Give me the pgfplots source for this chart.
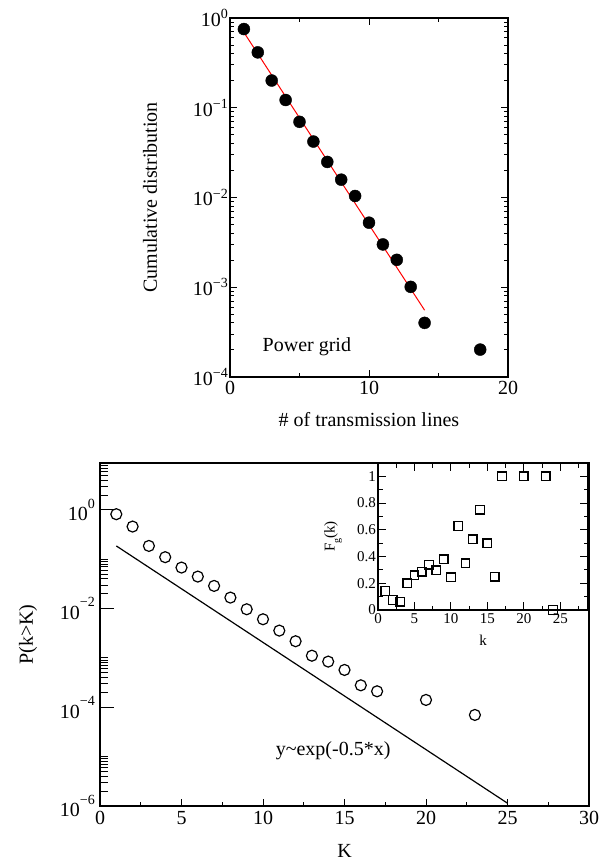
\documentclass[border=0pt]{standalone}
\usepackage{fontspec}
\setmainfont{Liberation Serif}
\usepackage{pgfplots}
\pgfplotsset{compat=1.18}
\newcommand{\ta}[1]{10\raisebox{0.38em}{\fontsize{14}{14}\selectfont #1}}
\newcommand{\tb}[1]{10\raisebox{0.62em}{\fontsize{14}{14}\selectfont #1}}
\newcommand{\bigf}{\fontsize{20}{24}\selectfont}
\newcommand{\smlf}{\fontsize{15}{18}\selectfont}
\begin{document}
\begin{tikzpicture}
\useasboundingbox (0,0) rectangle (598pt,-861pt);
% ---------------- top plot ----------------
\begin{axis}[
  at={(230pt,-377pt)}, anchor=south west, scale only axis,
  width=278pt, height=359pt,
  xmin=0, xmax=20, ymode=log, ymin=1e-4, ymax=1,
  xtick={0,10,20}, xticklabels={0,10,20}, minor xtick={5,15},
  ytick={1e-4,1e-3,1e-2,1e-1,1},
  yticklabels={\ta{−4},\ta{−3},\ta{−2},\ta{−1},\ta{0}},
  minor ytick={2e-4,3e-4,4e-4,5e-4,6e-4,7e-4,8e-4,9e-4,
               2e-3,3e-3,4e-3,5e-3,6e-3,7e-3,8e-3,9e-3,
               2e-2,3e-2,4e-2,5e-2,6e-2,7e-2,8e-2,9e-2,
               2e-1,3e-1,4e-1,5e-1,6e-1,7e-1,8e-1,9e-1},
  major tick length=7pt, minor tick length=4pt,
  every tick/.style={black, line width=1pt},
  axis line style={line width=1.2pt},
  tick label style={font=\bigf},
  yticklabel style={inner sep=2pt},
  xticklabel style={inner sep=4pt},
  xlabel={\# of transmission lines},
  ylabel={Cumulative distribution},
  every axis x label/.style={at={(axis description cs:0.5,-0.118)}, anchor=center, font=\bigf},
  every axis y label/.style={at={(axis description cs:-0.288,0.5)}, rotate=90, anchor=center, font=\bigf},
]
\addplot[only marks, mark=*, mark size=6pt, black] coordinates {
 (1,0.753) (2,0.414) (3,0.201) (4,0.122) (5,0.0697) (6,0.042) (7,0.0249)
 (8,0.0158) (9,0.0104) (10,0.00524) (11,0.0030) (12,0.00202) (13,0.00101)
 (14,0.000401) (18,0.000202)};
\addplot[red, line width=1pt] coordinates {(1.03,0.68) (14.0,0.000555)};
\node[anchor=west, font=\bigf] at (axis cs:2.1,2.2e-4) {Power grid};
\end{axis}
% ---------------- bottom plot ----------------
\begin{axis}[
  at={(100pt,-806pt)}, anchor=south west, scale only axis,
  width=489pt, height=343pt,
  xmin=0, xmax=30, ymode=log, ymin=1e-6, ymax=8.9,
  xtick={0,5,10,15,20,25,30}, xticklabels={0,5,10,15,20,25,30},
  minor xtick={2.5,7.5,12.5,17.5,22.5,27.5},
  ytick={1e-6,1e-4,1e-2,1},
  yticklabels={\tb{−6},\tb{−4},\tb{−2},\tb{0}},
  minor ytick={},
  xtick pos=bottom, ytick pos=left,
  major tick length=7pt, minor tick length=4pt,
  every tick/.style={black, line width=1pt},
  axis line style={line width=1.2pt},
  tick label style={font=\bigf},
  yticklabel style={inner sep=5pt},
  xticklabel style={inner sep=5pt},
  xlabel={K}, ylabel={P(k>K)},
  every axis x label/.style={at={(axis description cs:0.5,-0.132)}, anchor=center, font=\bigf, inner sep=0pt},
  every axis y label/.style={at={(axis description cs:-0.147,0.5)}, rotate=90, anchor=center, font=\bigf},
]
\addplot[only marks, mark=o, mark size=5.5pt, black, line width=1.2pt] coordinates {
 (1,0.817) (2,0.459) (3,0.186) (4,0.110) (5,0.0678) (6,0.0445) (7,0.0288)
 (8,0.0167) (9,0.00969) (10,0.00608) (11,0.00358) (12,0.00218) (13,0.00111)
 (14,0.000843) (15,0.000571) (16,0.000279) (17,0.000211) (20,0.000141) (23,0.0000700)};
\addplot[black, line width=1.2pt] coordinates {(1,0.186) (25,1.14e-6)};
\node[font=\bigf] at (axis cs:14.3,1.3e-5) {y{\char"7E}exp(-0.5*x)};
\end{axis}
% overlay for the long y ticks of the bottom plot
\begin{axis}[
  at={(100pt,-806pt)}, anchor=south west, scale only axis,
  width=489pt, height=343pt,
  xmin=0, xmax=30, ymode=log, ymin=1e-6, ymax=8.9,
  hide x axis, axis y line*=left,
  ytick={1e-6,1e-4,1e-2,1}, yticklabels={},
  minor ytick={2e-6,3e-6,4e-6,5e-6,6e-6,7e-6,8e-6,9e-6,1e-5,
               2e-4,3e-4,4e-4,5e-4,6e-4,7e-4,8e-4,9e-4,1e-3,
               2e-2,3e-2,4e-2,5e-2,6e-2,7e-2,8e-2,9e-2,1e-1,
               2,3,4,5,6,7,8},
  major tick length=14pt, minor tick length=8pt,
  every tick/.style={black, line width=1pt},
  axis line style={line width=1.2pt, -},
]
\addplot[draw=none] coordinates {(1,1)};
\end{axis}
% ---------------- inset ----------------
\begin{axis}[
  at={(378pt,-610pt)}, anchor=south west, scale only axis,
  width=210pt, height=147pt,
  xmin=0, xmax=28.8, ymin=0, ymax=1.1,
  axis background/.style={fill=white},
  clip=false,
  xtick={0,5,10,15,20,25}, xticklabels={0,5,10,15,20,25},
  minor xtick={2.5,7.5,12.5,17.5,22.5,27.5},
  ytick={0,0.2,0.4,0.6,0.8,1}, yticklabels={0,0.2,0.4,0.6,0.8,1},
  minor ytick={0.1,0.3,0.5,0.7,0.9},
  major tick length=8pt, minor tick length=4.5pt,
  every tick/.style={black, line width=1pt},
  axis line style={line width=1.2pt},
  tick label style={font=\smlf},
  yticklabel style={inner sep=2pt},
  xticklabel style={inner sep=3pt},
  xlabel={k}, ylabel={F\raisebox{-0.35em}{\fontsize{10}{10}\selectfont g}(k)},
  every axis x label/.style={at={(axis description cs:0.5,-0.204)}, anchor=center, font=\smlf},
  every axis y label/.style={at={(axis description cs:-0.214,0.5)}, rotate=90, anchor=center, font=\smlf},
]
\addplot[only marks, mark=square, mark size=4.3pt, black, line width=1.3pt] coordinates {
 (1,0.143) (2,0.075) (3,0.062) (4,0.2) (5,0.26) (6,0.287) (7,0.34) (8,0.297)
 (9,0.38) (10,0.244) (11,0.628) (12,0.35) (13,0.53) (14,0.75) (15,0.5) (16,0.25)
 (17,1) (20,1) (23,1) (24,0)};
\end{axis}
\end{tikzpicture}
\end{document}
